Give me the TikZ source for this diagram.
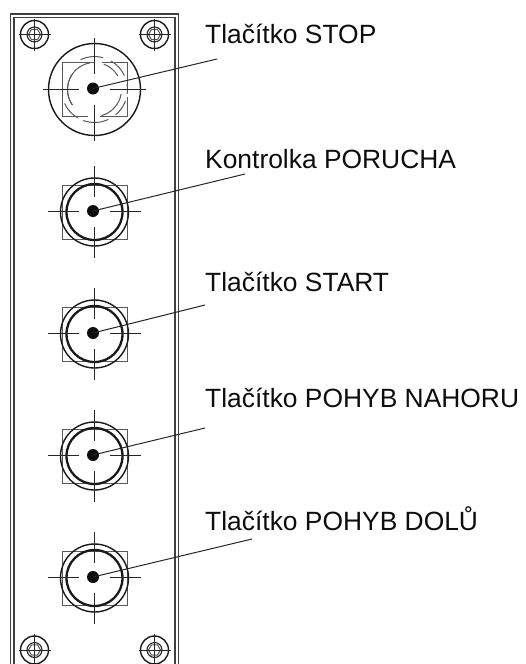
\documentclass[tikz,border=0pt]{standalone}
\usepackage{fontspec}
\setmainfont{Liberation Sans}
\tikzset{
    cross/.style={line width=0.9pt,color=black!85},
    thinline/.style={line width=1pt,color=black!65},
    ring/.style={line width=1.4pt,color=black!90},
    bolt/.style={circle,fill=black!95,inner sep=0pt,minimum size=12pt},
    label/.style={anchor=base west,inner sep=0pt,font=\fontsize{26.4}{30}\selectfont,color=black!95},
    leader/.style={line width=1pt,color=black!85}
}
\newcommand{\screwmark}[2]{
    \draw[ring] (#1,#2) circle (14);
    \draw[line width=1.1pt,color=black!85] (#1,#2) circle (7.5);
    \draw[thinline] (#1-6,#2) -- (#1-3,#2-5.2) -- (#1+3,#2-5.2) -- (#1+6,#2) -- (#1+3,#2+5.2) -- (#1-3,#2+5.2) -- cycle;
    \draw[cross] (#1-16,#2) -- (#1+16,#2);
    \draw[cross] (#1,#2-16) -- (#1,#2+16);
}
\begin{document}
\begin{tikzpicture}[x=1pt,y=-1pt]
    \useasboundingbox (0,0) rectangle (525,664);
    % panel, open at the bottom
    \draw[line width=1.3pt,color=black!75] (10.5,664) -- (10.5,14) -- (178.5,14) -- (178.5,664);
    \draw[line width=1.3pt,color=black!75] (14,664) -- (14,17.5) -- (175,17.5) -- (175,664);
    \screwmark{34.5}{34.5}
    \screwmark{154.5}{34.5}
    \screwmark{34.5}{650}
    \screwmark{154.5}{650}
    % top button
    \draw[thinline] (95,62) -- (62,62) -- (62,116.5) -- (88,116.5);
    \draw[thinline] (102,62) -- (127,62) -- (127,90);
    \draw[thinline] (127,97) -- (127,116.5) -- (100,116.5);
    \draw[ring] (94.5,89.5) circle (46);
    \foreach \a/\b in {-115/-75,-60/-25,20/50,65/110,120/155,-10/8} {
        \draw[thinline] (94.5,89.5) ++(\a:33) arc (\a:\b:33);
    }
    \foreach \a/\b in {-165/-100,-70/-30,10/75,145/215,-165/-215} {
        \draw[thinline] (94.5,89.5) ++(\a:27) arc (\a:\b:27);
    }
    \draw[cross] (43,89.5) -- (79,89.5);
    \draw[cross] (110,89.5) -- (146,89.5);
    \draw[cross] (94.5,38) -- (94.5,74);
    \draw[cross] (94.5,105) -- (94.5,141);
    % round buttons
    \foreach \y in {212,334,456,578} {
        \draw[thinline] (62,\y-27) rectangle (127,\y+27);
        \draw[ring] (94.5,\y) circle (34);
        \draw[line width=2.3pt,color=black!90] (94.5,\y) circle (28);
        \draw[cross] (48,\y-0.5) -- (79,\y-0.5);
        \draw[cross] (110,\y-0.5) -- (141,\y-0.5);
        \draw[cross] (94.5,\y-46) -- (94.5,\y-15);
        \draw[cross] (94.5,\y+15) -- (94.5,\y+46);
    }
    % bolts
    \node[bolt] (stopdot) at (93,88.5) {};
    \node[bolt] (porucha) at (93,211) {};
    \node[bolt] (startdot) at (93,333) {};
    \node[bolt] (nahoru) at (93,455) {};
    \node[bolt] (dolu) at (93,577) {};
    % leader ends
    \coordinate (stopend) at (217,59);
    \coordinate (poruchaend) at (245,174);
    \coordinate (startend) at (205,305);
    \coordinate (nahoruend) at (205,428);
    \coordinate (doluend) at (252,539);
    \draw[leader] (stopdot.center) -- (stopend);
    \draw[leader] (porucha.center) -- (poruchaend);
    \draw[leader] (startdot.center) -- (startend);
    \draw[leader] (nahoru.center) -- (nahoruend);
    \draw[leader] (dolu.center) -- (doluend);
    % texts
    \node[label] (stoptext) at (205,43) {Tlačítko STOP};
    \node[label] (poruchatext) at (205,168) {Kontrolka PORUCHA};
    \node[label] (starttext) at (205,291) {Tlačítko START};
    \node[label] (nahorutext) at (205,407) {Tlačítko POHYB NAHORU};
    \node[label] (dolutext) at (205,530) {Tlačítko POHYB DOLŮ};
\end{tikzpicture}
\end{document}
